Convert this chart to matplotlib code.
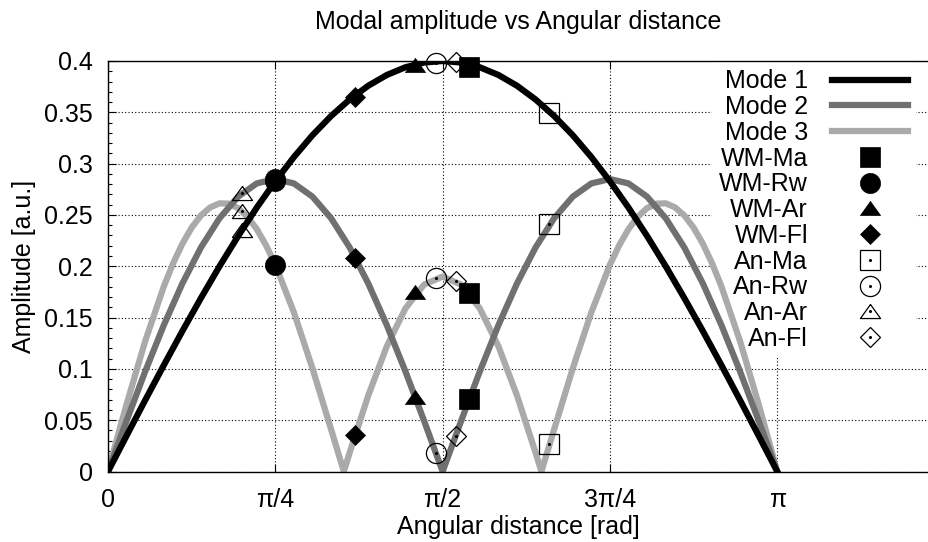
import numpy as np
import matplotlib
matplotlib.use("Agg")
import matplotlib.pyplot as plt

plt.rcParams["font.family"] = ["Liberation Sans", "DejaVu Sans"]
plt.rcParams["font.size"] = 18

# modal amplitude profiles, sampled every 5 degrees of angular distance
angle_deg = list(range(0, 181, 5))
mode1 = [0.0, 0.0349, 0.0695, 0.1035, 0.1368, 0.1690, 0.2000, 0.2294, 0.2571,
         0.2828, 0.3064, 0.3277, 0.3464, 0.3625, 0.3759, 0.3864, 0.3939, 0.3985,
         0.4000, 0.3985, 0.3939, 0.3864, 0.3759, 0.3625, 0.3464, 0.3277, 0.3064,
         0.2828, 0.2571, 0.2294, 0.2000, 0.1690, 0.1368, 0.1035, 0.0695, 0.0349, 0.0]
mode2 = [0.0, 0.0495, 0.0975, 0.1425, 0.1832, 0.2183, 0.2468, 0.2678, 0.2807,
         0.2850, 0.2807, 0.2678, 0.2468, 0.2183, 0.1832, 0.1425, 0.0975, 0.0495,
         0.0, 0.0495, 0.0975, 0.1425, 0.1832, 0.2183, 0.2468, 0.2678, 0.2807,
         0.2850, 0.2807, 0.2678, 0.2468, 0.2183, 0.1832, 0.1425, 0.0975, 0.0495, 0.0]
# mode 3: denser around the side lobes, plus samples at its two nodes
mode3_deg = [0, 5, 10, 15, 17.5, 20, 22.5, 25, 27.5, 30, 32.5, 35, 37.5, 40, 42.5,
             45, 50, 55, 60, 63.43, 65, 70, 75, 80, 85, 90, 95, 100, 105, 110,
             115, 116.57, 120, 125, 130, 135, 137.5, 140, 142.5, 145, 147.5, 150,
             152.5, 155, 157.5, 160, 162.5, 165, 170, 175, 180]
mode3 = [0.0, 0.0656, 0.1270, 0.1802, 0.2027, 0.2219, 0.2376, 0.2495, 0.2574,
         0.2613, 0.2610, 0.2567, 0.2483, 0.2362, 0.2205, 0.2015, 0.1551, 0.1004,
         0.0411, 0.0, 0.0184, 0.0741, 0.1221, 0.1589, 0.1821, 0.1900, 0.1821,
         0.1589, 0.1221, 0.0741, 0.0184, 0.0, 0.0411, 0.1004, 0.1551, 0.2015,
         0.2205, 0.2362, 0.2483, 0.2567, 0.2610, 0.2613, 0.2574, 0.2495, 0.2376,
         0.2219, 0.2027, 0.1802, 0.1270, 0.0656, 0.0]

# measured samples: one angle per sample, amplitudes for modes 1, 2, 3
sample_names = ["WM-Ma", "WM-Rw", "WM-Ar", "WM-Fl", "An-Ma", "An-Rw", "An-Ar", "An-Fl"]
sample_deg = [97.2, 45.0, 82.6, 66.5, 118.7, 88.2, 36.0, 93.5]
sample_amp = [
    [0.394, 0.071, 0.174],
    [0.283, 0.285, 0.201],
    [0.396, 0.073, 0.175],
    [0.365, 0.208, 0.036],
    [0.349, 0.241, 0.027],
    [0.398, 0.018, 0.189],
    [0.235, 0.271, 0.254],
    [0.399, 0.035, 0.186],
]

xtick_labels = ["0", "\u03c0/4", "\u03c0/2", "3\u03c0/4", "\u03c0"]
ytick_labels = ["0", "0.05", "0.1", "0.15", "0.2", "0.25", "0.3", "0.35", "0.4"]

tri = [(0, 0.7), (-1, -0.7), (1, -0.7), (0, 0.7)]
shapes = ["s", "o", tri, "D"] * 2
sizes = [14.5, 14.5, 14.5, 10.0] * 2
filled = [True] * 4 + [False] * 4

fig = plt.figure(figsize=(9.29, 5.42), dpi=100)
ax = fig.add_axes([108 / 929, 70.5 / 542, 1 - 108 / 929, 410.5 / 542])

handles = []
mode_styles = [("Mode 1", mode1, angle_deg, "#000000", 2.3),
               ("Mode 2", mode2, angle_deg, "#707070", 2.2),
               ("Mode 3", mode3, mode3_deg, "#aaaaaa", 2.1)]
for label, amp, deg, color, z in mode_styles:
    ln, = ax.plot(np.radians(deg), amp, color=color, lw=4.5, zorder=z,
                  solid_joinstyle="round", label=label)
    handles.append(ln)

for name, deg, amp, mk, ms, fill in zip(sample_names, sample_deg, sample_amp,
                                        shapes, sizes, filled):
    x = np.radians([deg] * len(amp))
    mk_line, = ax.plot(x, amp, linestyle="none", marker=mk, ms=ms,
                       mfc="black" if fill else "none", mec="black",
                       mew=0.5 if fill else 0.9, clip_on=False, zorder=5)
    if fill:
        handles.append(mk_line)
    else:
        dot, = ax.plot(x, amp, linestyle="none", marker="o", ms=1.2,
                       color="black", clip_on=False, zorder=5)
        handles.append((mk_line, dot))

ax.set_xlim(0, 3.854)
ax.set_ylim(0, 0.4)
ax.set_xticks(np.pi * np.arange(5) / 4)
ax.set_xticklabels(xtick_labels)
ax.set_yticks(np.arange(9) * 0.05)
ax.set_yticklabels(ytick_labels)
ax.set_yticks(np.arange(41) * 0.01, minor=True)
ax.tick_params(which="major", direction="in", length=6, width=0.8, top=True,
               labelsize=18)
ax.tick_params(axis="x", pad=12)
ax.tick_params(axis="y", pad=11)
ax.tick_params(which="minor", direction="in", length=3, width=0.8)
ax.spines["right"].set_visible(False)
for side in ["left", "bottom", "top"]:
    ax.spines[side].set_linewidth(1.0)
ax.grid(True, which="major", color="black", lw=0.8, linestyle=(0, (1, 2)))
ax.set_axisbelow(True)

ax.set_title("Modal amplitude vs Angular distance", fontsize=18, pad=23)
ax.set_xlabel("Angular distance [rad]", fontsize=18, labelpad=2)
ax.set_ylabel("Amplitude [a.u.]", fontsize=18, labelpad=6)

labels = ["Mode 1", "Mode 2", "Mode 3"] + sample_names
leg = ax.legend(handles, labels, loc="upper right", bbox_to_anchor=(0.9836, 0.998),
                markerfirst=False, numpoints=1, handlelength=3.05,
                handletextpad=0.95, labelspacing=0.07, borderpad=0.3,
                borderaxespad=0, fancybox=False, framealpha=1,
                facecolor="white", edgecolor="none", fontsize=18)
# white key box hides the grid but stays under the curves
leg.set_zorder(1.5)

fig.savefig("out.png", dpi=100)
